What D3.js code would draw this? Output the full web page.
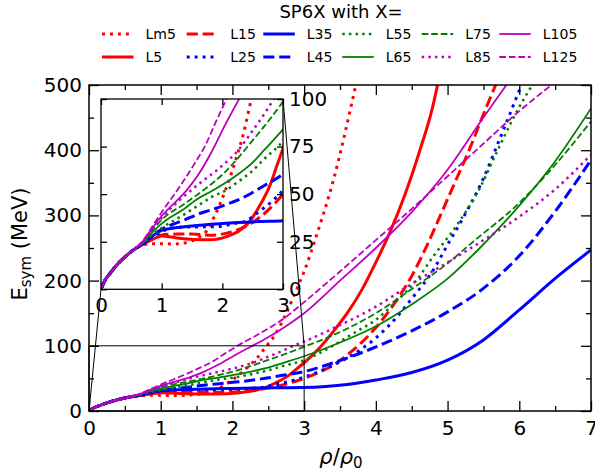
<!DOCTYPE html>
<html>
<head>
<meta charset="utf-8">
<script src="https://cdn.jsdelivr.net/npm/d3@7"></script>
<style>
  body { margin: 0; background: #fff; }
  svg { display: block; font-family: "DejaVu Sans", sans-serif; }
</style>
</head>
<body>
<div id="chart"></div>
<script>
// values: [rho/rho0, Esym in MeV]
const LM5 = [[0,0],[0.07,5],[0.15,8.4],[0.26,12.8],[0.4,17.2],[0.53,20.6],[0.7,23.3],[0.85,24],[1.0,24],[1.2,23.8],[1.4,24.5],[1.6,27],[1.75,31],[1.85,37],[1.95,44],[2.05,52],[2.15,61],[2.25,71],[2.35,82],[2.45,96],[2.6,118],[2.73,145],[2.84,172],[2.94,198],[3.0,214],[3.15,262],[3.41,355],[3.72,500]];
const L5 = [[0,0],[0.07,5],[0.15,8.4],[0.26,12.8],[0.4,17.2],[0.53,20.6],[0.7,23.8],[0.85,26.2],[1.0,28],[1.25,27],[1.52,26.2],[1.8,26],[2.07,27.7],[2.29,31],[2.46,36],[2.59,42.5],[2.79,55],[2.9,65],[3.0,74],[3.2,95],[3.4,121],[3.6,150],[3.8,185],[4.0,228],[4.2,275],[4.4,330],[4.6,395],[4.8,470],[4.86,500]];
const L15 = [[0,0],[0.07,5],[0.15,8.4],[0.26,12.8],[0.4,17.2],[0.53,20.6],[0.7,23.9],[0.85,26.6],[1.0,28.6],[1.25,29],[1.5,29],[1.82,28.4],[2.15,30.2],[2.37,32.8],[2.59,37.2],[2.81,43.3],[3.0,50],[3.2,59],[3.4,70],[3.6,86],[3.8,105],[4.0,128],[4.29,170],[4.52,211],[4.73,258],[4.9,300],[5.1,350],[5.3,400],[5.5,455],[5.67,500]];
const L25 = [[0,0],[0.07,5],[0.15,8.4],[0.26,12.8],[0.4,17.2],[0.53,20.6],[0.7,24],[0.85,27.5],[1.0,30.3],[1.3,32.6],[1.6,32.8],[1.93,33],[2.2,34.6],[2.4,36],[2.57,40],[2.81,46],[3.0,52],[3.41,70.5],[3.78,93.6],[4.0,112],[4.29,144],[4.52,175],[4.8,216],[5.0,255],[5.22,297],[5.48,352],[5.73,418],[6.03,500]];
const L35 = [[0,0],[0.07,5],[0.15,8.4],[0.26,12.8],[0.4,17.2],[0.53,20.6],[0.7,24.1],[0.85,28],[1.0,31],[1.5,33.3],[2.0,34.6],[2.6,35.6],[3.0,36],[3.3,37.5],[3.6,40.5],[4.0,47.5],[4.5,59],[5.0,78],[5.5,109],[6.0,155],[6.53,206],[7.0,247]];
const L45 = [[0,0],[0.07,5],[0.15,8.4],[0.26,12.8],[0.4,17.2],[0.53,20.6],[0.7,24.2],[0.85,28.3],[1.0,31.5],[1.38,36.5],[1.6,39.5],[1.82,41.8],[2.04,44.3],[2.26,47],[2.48,50.5],[2.7,54.7],[2.98,60],[3.41,74],[4.01,98.7],[4.52,124],[5.0,152],[5.5,188],[6.0,238],[6.5,306],[7.0,385]];
const L55 = [[0,0],[0.07,5],[0.15,8.4],[0.26,12.8],[0.4,17.2],[0.53,20.6],[0.7,24.4],[0.85,28.7],[1.0,32.2],[1.38,39.5],[1.6,44],[1.82,48.4],[2.07,52.2],[2.26,56.5],[2.48,61.8],[2.7,68.8],[3.0,78],[3.4,100],[3.7,120],[4.0,140],[4.33,173],[4.57,201],[4.8,237],[5.13,285],[5.46,344],[5.69,398],[5.92,450],[6.18,500]];
const L65 = [[0,0],[0.07,5],[0.15,8.4],[0.26,12.8],[0.4,17.2],[0.53,20.6],[0.7,24.7],[0.85,30],[1.0,34.5],[1.38,42.5],[1.6,47.7],[1.82,51.5],[2.04,55.7],[2.26,60.5],[2.48,66],[2.7,73.5],[3.0,84],[3.5,105],[4.0,130],[4.52,165],[5.0,203],[5.45,250],[6.0,315],[6.48,380],[7.0,464]];
const L75 = [[0,0],[0.07,5],[0.15,8.4],[0.26,12.8],[0.4,17.2],[0.53,20.6],[0.7,25],[0.85,31],[1.0,36.5],[1.38,45],[1.6,50],[1.82,55.3],[2.04,61.5],[2.26,69],[2.48,77.5],[2.7,86],[2.98,97.7],[3.41,116.6],[4.0,150],[4.48,185.6],[5.0,226.5],[5.36,260],[5.97,316],[6.48,375],[7.0,444]];
const L85 = [[0,0],[0.07,5],[0.15,8.4],[0.26,12.8],[0.4,17.2],[0.53,20.6],[0.7,25.3],[0.85,31.8],[1.0,37.5],[1.3,47],[1.6,55],[2.0,65],[2.26,73],[2.48,82.5],[2.7,92.5],[2.84,99.5],[3.0,106.5],[3.41,127],[4.0,160],[4.5,195],[5.0,228],[5.5,262],[6.0,298],[6.5,340],[7.0,393]];
const L105 = [[0,0],[0.07,5],[0.15,8.4],[0.26,12.8],[0.4,17.2],[0.53,20.6],[0.7,25.6],[0.85,32.3],[1.0,38.5],[1.2,45],[1.41,52],[1.6,60],[1.82,72],[2.04,86],[2.26,99],[2.4,107],[2.73,129],[3.0,150],[3.5,200],[4.0,250],[4.5,305],[5.0,370],[5.5,450],[5.82,500]];
const L125 = [[0,0],[0.07,5],[0.15,8.4],[0.26,12.8],[0.4,17.2],[0.53,20.6],[0.7,26],[0.85,33.2],[1.0,40.5],[1.3,54],[1.58,68],[1.71,75],[1.88,87],[2.07,100],[2.4,120],[2.73,143],[3.0,167],[3.5,214],[4.0,262],[4.5,310],[5.0,360],[5.5,410],[6.0,460],[6.45,500]];

const seriesNames = ["Lm5", "L5", "L15", "L25", "L35", "L45", "L55", "L65", "L75", "L85", "L105", "L125"];
const seriesData = [LM5, L5, L15, L25, L35, L45, L55, L65, L75, L85, L105, L125];

const xTicks = [0, 1, 2, 3, 4, 5, 6, 7];
const xMinor = [0.5, 1.5, 2.5, 3.5, 4.5, 5.5, 6.5];
const yTicks = [0, 100, 200, 300, 400, 500];
const yMinor = [50, 150, 250, 350, 450];
const insetXTicks = [0, 1, 2, 3];
const insetYTicks = [0, 25, 50, 75, 100];
const zoomBox = { x0: 0, x1: 3, y0: 0, y1: 100 };

// line styles, matplotlib-ish
const STYLE = {
  Lm5:  { color: "#ff0000", w: 3, dash: "dot" },
  L5:   { color: "#ff0000", w: 3, dash: "solid" },
  L15:  { color: "#ff0000", w: 3, dash: "dash" },
  L25:  { color: "#0000ff", w: 3, dash: "dot" },
  L35:  { color: "#0000ff", w: 3, dash: "solid" },
  L45:  { color: "#0000ff", w: 3, dash: "dash" },
  L55:  { color: "#008000", w: 2.5, dash: "dot" },
  L65:  { color: "#008000", w: 1.8, dash: "solid" },
  L75:  { color: "#008000", w: 1.8, dash: "dash" },
  L85:  { color: "#bf00bf", w: 2.5, dash: "dot" },
  L105: { color: "#bf00bf", w: 1.8, dash: "solid" },
  L125: { color: "#bf00bf", w: 1.8, dash: "dash" }
};
function dashArray(s) {
  if (s.dash === "dot") return `${s.w},${1.65 * s.w}`;
  if (s.dash === "dash") return `${3.7 * s.w},${1.6 * s.w}`;
  return null;
}

const W = 595, H = 474;
const M = { left: 89, right: 591, top: 85, bottom: 411 };
const INS = { left: 101, right: 283, top: 99, bottom: 289.3 };
const FONT = "DejaVu Sans";

const svg = d3.select("#chart").append("svg").attr("width", W).attr("height", H);
const defs = svg.append("defs");
defs.append("clipPath").attr("id", "clipMain").append("rect")
  .attr("x", M.left).attr("y", M.top).attr("width", M.right - M.left).attr("height", M.bottom - M.top);
defs.append("clipPath").attr("id", "clipInset").append("rect")
  .attr("x", INS.left).attr("y", INS.top).attr("width", INS.right - INS.left).attr("height", INS.bottom - INS.top);

const x = d3.scaleLinear().domain([0, 7]).range([M.left, M.right]);
const y = d3.scaleLinear().domain([0, 500]).range([M.bottom, M.top]);
const xi = d3.scaleLinear().domain([0, 3]).range([INS.left, INS.right]);
const yi = d3.scaleLinear().domain([0, 100]).range([INS.bottom, INS.top]);

function drawCurves(g, xs, ys) {
  const line = d3.line().x(d => xs(d[0])).y(d => ys(d[1])).curve(d3.curveMonotoneX);
  seriesNames.forEach((name, i) => {
    const s = STYLE[name];
    g.append("path").datum(seriesData[i])
      .attr("fill", "none").attr("stroke", s.color).attr("stroke-width", s.w)
      .attr("stroke-dasharray", dashArray(s)).attr("stroke-linejoin", "round")
      .attr("d", line);
  });
}

function styleAxis(g) {
  g.select(".domain").remove();
  g.attr("font-family", FONT).attr("font-size", 20);
  g.selectAll("line").attr("stroke", "#000").attr("stroke-width", 1.3);
  g.selectAll("text").attr("fill", "#000");
}

// --- main axes ---
drawCurves(svg.append("g").attr("clip-path", "url(#clipMain)"), x, y);

const ax = svg.append("g");
ax.append("g").attr("transform", `translate(0,${M.bottom})`)
  .call(d3.axisBottom(x).tickValues(xTicks).tickSizeInner(-10).tickSizeOuter(0).tickPadding(9.5).tickFormat(d3.format("d"))).call(styleAxis);
ax.append("g").attr("transform", `translate(0,${M.bottom})`)
  .call(d3.axisBottom(x).tickValues(xMinor).tickSize(-5).tickFormat("")).call(styleAxis);
ax.append("g").attr("transform", `translate(0,${M.top})`)
  .call(d3.axisTop(x).tickValues(xTicks).tickSize(-10).tickFormat("")).call(styleAxis);
ax.append("g").attr("transform", `translate(0,${M.top})`)
  .call(d3.axisTop(x).tickValues(xMinor).tickSize(-5).tickFormat("")).call(styleAxis);
ax.append("g").attr("transform", `translate(${M.left},0)`)
  .call(d3.axisLeft(y).tickValues(yTicks).tickSizeInner(-10).tickSizeOuter(0).tickPadding(7).tickFormat(d3.format("d"))).call(styleAxis);
ax.append("g").attr("transform", `translate(${M.left},0)`)
  .call(d3.axisLeft(y).tickValues(yMinor).tickSize(-5).tickFormat("")).call(styleAxis);
ax.append("g").attr("transform", `translate(${M.right},0)`)
  .call(d3.axisRight(y).tickValues(yTicks).tickSize(-10).tickFormat("")).call(styleAxis);
ax.append("g").attr("transform", `translate(${M.right},0)`)
  .call(d3.axisRight(y).tickValues(yMinor).tickSize(-5).tickFormat("")).call(styleAxis);
ax.append("rect").attr("x", M.left).attr("y", M.top).attr("width", M.right - M.left).attr("height", M.bottom - M.top)
  .attr("fill", "none").attr("stroke", "#000").attr("stroke-width", 1.5);

// zoom box and connectors
const zb = svg.append("g").attr("stroke", "#000").attr("stroke-width", 1).attr("fill", "none");
zb.append("rect").attr("x", x(zoomBox.x0)).attr("y", y(zoomBox.y1))
  .attr("width", x(zoomBox.x1) - x(zoomBox.x0)).attr("height", y(zoomBox.y0) - y(zoomBox.y1));
zb.append("line").attr("x1", x(zoomBox.x0)).attr("y1", y(zoomBox.y0)).attr("x2", INS.left).attr("y2", INS.bottom);
zb.append("line").attr("x1", x(zoomBox.x1)).attr("y1", y(zoomBox.y1)).attr("x2", INS.right).attr("y2", INS.top);

// --- inset ---
svg.append("rect").attr("x", INS.left).attr("y", INS.top).attr("width", INS.right - INS.left).attr("height", INS.bottom - INS.top)
  .attr("fill", "#fff");
drawCurves(svg.append("g").attr("clip-path", "url(#clipInset)"), xi, yi);

const ix = svg.append("g");
ix.append("g").attr("transform", `translate(0,${INS.bottom})`)
  .call(d3.axisBottom(xi).tickValues(insetXTicks).tickSizeInner(-6).tickSizeOuter(0).tickPadding(8.5).tickFormat(d3.format("d"))).call(styleAxis);
ix.append("g").attr("transform", `translate(0,${INS.top})`)
  .call(d3.axisTop(xi).tickValues(insetXTicks).tickSize(-6).tickFormat("")).call(styleAxis);
ix.append("g").attr("transform", `translate(${INS.left},0)`)
  .call(d3.axisLeft(yi).tickValues(insetYTicks).tickSize(-6).tickFormat("")).call(styleAxis);
ix.append("g").attr("transform", `translate(${INS.right},0)`)
  .call(d3.axisRight(yi).tickValues(insetYTicks).tickSizeInner(-6).tickSizeOuter(0).tickPadding(6).tickFormat(d3.format("d"))).call(styleAxis);
ix.append("rect").attr("x", INS.left).attr("y", INS.top).attr("width", INS.right - INS.left).attr("height", INS.bottom - INS.top)
  .attr("fill", "none").attr("stroke", "#000").attr("stroke-width", 1.3);

// --- axis labels ---
const xl = svg.append("text").attr("x", 341).attr("y", 464).attr("text-anchor", "middle")
  .attr("font-family", FONT).attr("font-size", 21);
xl.append("tspan").attr("font-style", "italic").text("ρ");
xl.append("tspan").text("/");
xl.append("tspan").attr("font-style", "italic").text("ρ");
xl.append("tspan").attr("font-size", 15).attr("dy", 4).text("0");

const yl = svg.append("text").attr("transform", "translate(27,244) rotate(-90)").attr("text-anchor", "middle")
  .attr("font-family", FONT).attr("font-size", 21);
yl.append("tspan").text("E");
yl.append("tspan").attr("font-size", 15).attr("dy", 4).text("sym");
yl.append("tspan").attr("dy", -4).text(" (MeV)");

// --- legend ---
const legCols = [102, 186.7, 263.3, 342.3, 421.7, 499.3];
const legRows = [34, 57];
const handleLen = 31.5, labelGap = 43.5;
const lg = svg.append("g").attr("font-family", FONT).attr("font-size", 14);
lg.append("text").attr("x", 341).attr("y", 12).attr("dy", "0.36em").attr("text-anchor", "middle")
  .attr("font-size", 18).text("SP6X with X=");
seriesNames.forEach((name, i) => {
  const cx = legCols[Math.floor(i / 2)], cy = legRows[i % 2];
  const s = STYLE[name];
  lg.append("line").attr("x1", cx).attr("x2", cx + handleLen).attr("y1", cy).attr("y2", cy)
    .attr("stroke", s.color).attr("stroke-width", s.w).attr("stroke-dasharray", dashArray(s));
  lg.append("text").attr("x", cx + labelGap).attr("y", cy).attr("dy", "0.36em").text(name);
});
</script>
</body>
</html>
